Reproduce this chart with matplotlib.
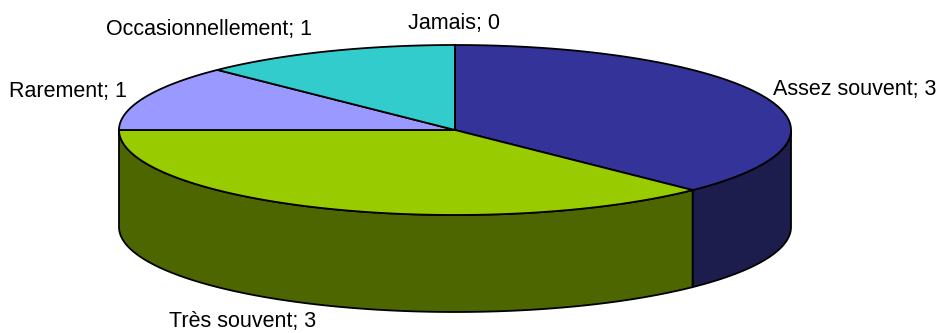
import numpy as np
import matplotlib.pyplot as plt
from matplotlib.patches import Polygon

# --- Data ---
labels = ["Jamais", "Assez souvent", "Très souvent", "Rarement", "Occasionnellement"]
values = [0, 3, 3, 1, 1]
top_colors = ["#3366FF", "#333399", "#99CC00", "#9999FF", "#33CCCC"]
side_colors = ["#1A3380", "#1C1C4D", "#4D6600", "#4D4D80", "#1A6666"]

# label placement (pixel coords, alignment)
label_pos = [
    (454, 23, "center"),
    (773, 89, "left"),
    (169, 321, "left"),
    (9, 91, "left"),
    (312, 30, "right"),
]

# pie geometry in pixels
CX, CY = 455, 130
RX, RY = 336, 85
DEPTH = 97

plt.rcParams['font.family'] = ['Liberation Sans', 'DejaVu Sans']

fig = plt.figure(figsize=(9.41, 3.33), dpi=100)
ax = fig.add_axes([0, 0, 1, 1])
ax.set_xlim(0, 941)
ax.set_ylim(333, 0)
ax.axis("off")


def pt(t, dy=0):
    return CX + RX * np.cos(t), CY - RY * np.sin(t) + dy


# slice angles, clockwise from 12 o'clock
total = sum(values)
bounds = [np.pi / 2]
for v in values:
    bounds.append(bounds[-1] - 2 * np.pi * v / total)

# outer walls (front half only)
for i, v in enumerate(values):
    if v == 0:
        continue
    t0, t1 = bounds[i], bounds[i + 1]
    # visible front: angles in [-pi, 0] (mod 2pi)
    for shift in (0, -2 * np.pi, 2 * np.pi):
        lo = max(min(t0, t1) + shift, -np.pi)
        hi = min(max(t0, t1) + shift, 0)
        if hi - lo <= 1e-9:
            continue
        ts = np.linspace(hi, lo, 120)
        top = [pt(t) for t in ts]
        bot = [pt(t, DEPTH) for t in ts[::-1]]
        ax.add_patch(Polygon(top + bot, closed=True, facecolor=side_colors[i],
                             edgecolor="black", lw=1.3))

# top faces
for i, v in enumerate(values):
    if v == 0:
        continue
    ts = np.linspace(bounds[i], bounds[i + 1], 200)
    verts = [(CX, CY)] + [pt(t) for t in ts]
    ax.add_patch(Polygon(verts, closed=True, facecolor=top_colors[i],
                         edgecolor="black", lw=1.3))

# zero-value slice still shows its boundary line
for i, v in enumerate(values):
    if v == 0:
        x, y = pt(bounds[i])
        ax.plot([CX, x], [CY, y], color="black", lw=1.3)

for (x, y, ha), lab, v in zip(label_pos, labels, values):
    ax.text(x, y, f"{lab}; {v}", ha=ha, va="center", fontsize=15.5, color="black")

fig.savefig("out.png", dpi=100)
